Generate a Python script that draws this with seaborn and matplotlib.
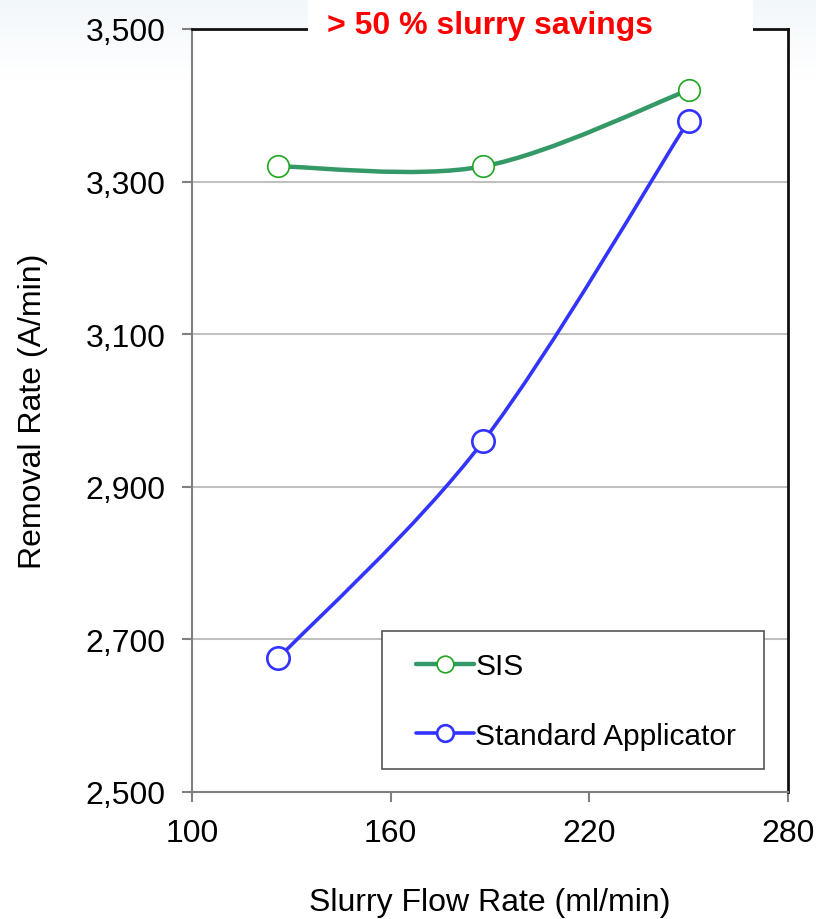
import numpy as np
import pandas as pd
import matplotlib
matplotlib.use("Agg")
import matplotlib.pyplot as plt
import seaborn as sns
from matplotlib.path import Path
from matplotlib.patches import PathPatch, Rectangle
from matplotlib.lines import Line2D

# Removal rate measurements at three slurry flow rates
flow_rate = [126, 188, 250]
sis_rate = [3320, 3320, 3420]
standard_rate = [2675, 2960, 3380]

series_names = ["SIS", "Standard Applicator"]
x_ticks = [100, 160, 220, 280]
y_ticks = [2500, 2700, 2900, 3100, 3300, 3500]

sns.set_theme(style="white")
plt.rcParams["font.family"] = ["Liberation Sans", "DejaVu Sans"]
plt.rcParams["text.color"] = "black"

df = pd.DataFrame({
    "flow": flow_rate * 2,
    "rate": sis_rate + standard_rate,
    "series": [series_names[0]] * 3 + [series_names[1]] * 3,
})

GREEN_LINE = "#339966"
GREEN_EDGE = "#1fa51f"
BLUE = "#3333ff"

W, H = 816, 920
fig = plt.figure(figsize=(W / 100, H / 100), dpi=100)

# faint slide-style gradient behind everything
bg = fig.add_axes([0, 0, 1, 1], zorder=-10)
grad = np.linspace(0, 1, 256).reshape(-1, 1)
top = np.array([0.950, 0.970, 0.982])
rgb = top[None, None, :] * (1 - grad[..., None]) + np.ones(3)[None, None, :] * grad[..., None]
bg.imshow(rgb, extent=[0, 1, 1 - 80 / H, 1], aspect="auto", origin="upper")
bg.set_xlim(0, 1)
bg.set_ylim(0, 1)
bg.axis("off")

ax = fig.add_axes([192 / W, 1 - 793 / H, (788 - 192) / W, (793 - 30) / H])
ax.set_facecolor("white")


def smooth_path(xs, ys, k=1 / 6):
    """Cubic Bezier path through the points (Catmull-Rom style control points)."""
    pts = np.column_stack([xs, ys]).astype(float)
    ext = np.vstack([pts[0], pts, pts[-1]])
    verts = [tuple(pts[0])]
    codes = [Path.MOVETO]
    for i in range(1, len(ext) - 2):
        p0, p1, p2, p3 = ext[i - 1], ext[i], ext[i + 1], ext[i + 2]
        c1 = p1 + (p2 - p0) * k
        c2 = p2 - (p3 - p1) * k
        verts += [tuple(c1), tuple(c2), tuple(p2)]
        codes += [Path.CURVE4] * 3
    return Path(verts, codes)


ax.add_patch(PathPatch(smooth_path(flow_rate, sis_rate), fill=False,
                       edgecolor=GREEN_LINE, lw=3.2, zorder=3, capstyle="round"))
ax.add_patch(PathPatch(smooth_path(flow_rate, standard_rate), fill=False,
                       edgecolor=BLUE, lw=2.6, zorder=3, capstyle="round"))

sns.scatterplot(data=df[df.series == series_names[0]], x="flow", y="rate", ax=ax,
                marker="o", s=240, facecolor="white", edgecolor=GREEN_EDGE,
                linewidth=1.2, zorder=4, legend=False)
sns.scatterplot(data=df[df.series == series_names[1]], x="flow", y="rate", ax=ax,
                marker="o", s=260, facecolor="white", edgecolor=BLUE,
                linewidth=1.9, zorder=4, legend=False)

ax.set_xlim(100, 280)
ax.set_ylim(2500, 3500)
ax.set_xticks(x_ticks)
ax.set_yticks(y_ticks)
ax.set_yticklabels([f"{v:,}" for v in y_ticks])
ax.set_xticklabels([str(v) for v in x_ticks])

for v in y_ticks[1:-1]:
    ax.axhline(v, color="#c0c0c0", lw=1.5, zorder=1)

for side in ["left", "bottom"]:
    ax.spines[side].set_color("#808080")
    ax.spines[side].set_linewidth(1.5)
for side in ["right", "top"]:
    ax.spines[side].set_color("#111111")
    ax.spines[side].set_linewidth(2.0)

ax.tick_params(axis="both", which="major", labelsize=23, colors="#808080",
               labelcolor="black", length=7, width=1.5, direction="out",
               left=True, bottom=True)
ax.tick_params(axis="y", pad=12)
ax.tick_params(axis="x", pad=12)

ax.set_xlabel("Slurry Flow Rate (ml/min)", fontsize=23, labelpad=28, color="black")
ax.set_ylabel("Removal Rate (A/min)", fontsize=23, labelpad=27, color="black")

# white banner over the top border carrying the headline
fig.patches.append(Rectangle((308 / W, 1 - 52 / H), (753 - 308) / W, 52 / H,
                             transform=fig.transFigure, facecolor="white",
                             edgecolor="none", zorder=5))
fig.text(490 / W, 1 - 26 / H, "> 50 % slurry savings", color="#ff0000",
         fontsize=23, fontweight="bold", ha="center", va="center", zorder=6)

# legend: framed box with the entries inset from its left edge
ax.add_patch(Rectangle(((382 - 192) / 596, (793 - 770) / 763),
                       (764 - 382) / 596, (770 - 632) / 763,
                       transform=ax.transAxes, facecolor="white",
                       edgecolor="#555555", lw=1.2, zorder=6))
handles = [
    Line2D([], [], color=GREEN_LINE, lw=3.2, marker="o", markersize=12,
           markerfacecolor="white", markeredgecolor=GREEN_EDGE, markeredgewidth=1.2),
    Line2D([], [], color=BLUE, lw=2.6, marker="o", markersize=12,
           markerfacecolor="white", markeredgecolor=BLUE, markeredgewidth=1.9),
]
leg = ax.legend(handles, series_names, loc="upper left",
                bbox_to_anchor=((394 - 192) / 596, (793 - 632) / 763),
                fontsize=21.5, frameon=False, handlelength=1.95, handletextpad=0.05,
                labelspacing=1.38, borderpad=0.72, borderaxespad=0,
                labelcolor="black")
leg.set_zorder(7)

fig.savefig("out.png", dpi=100, facecolor="white")
